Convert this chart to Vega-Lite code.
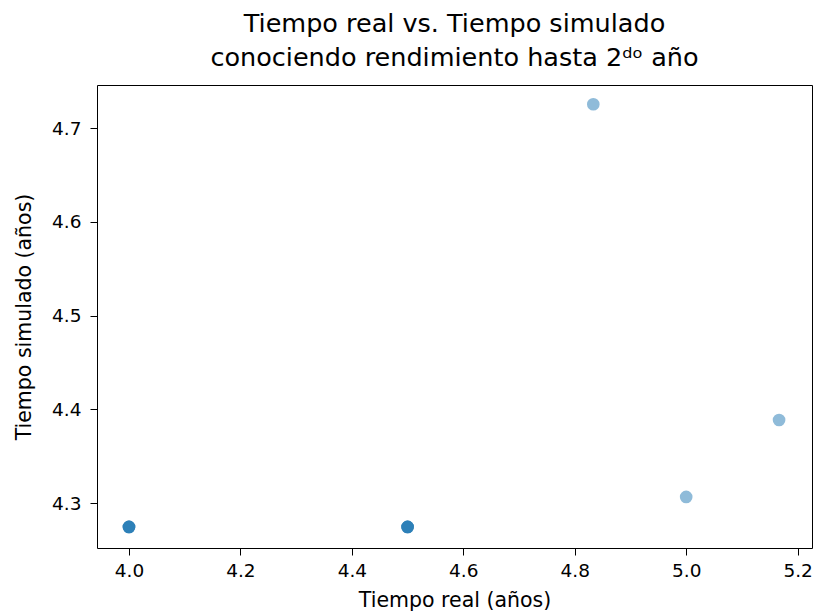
{
  "$schema": "https://vega.github.io/schema/vega-lite/v6.json",
  "autosize": "none",
  "padding": {"left": 97, "top": 85, "right": 4, "bottom": 66},
  "width": 715,
  "height": 463,
  "title": {
    "text": ["Tiempo real vs. Tiempo simulado", "conociendo rendimiento hasta 2ᵈᵒ año"],
    "font": "DejaVu Sans",
    "fontSize": 25.5,
    "fontWeight": "normal",
    "color": "#000000",
    "anchor": "middle",
    "lineHeight": 34,
    "offset": 14
  },
  "data": {
    "values": [
      {"real": 4.0, "sim": 4.2745},
      {"real": 4.0, "sim": 4.2745},
      {"real": 4.0, "sim": 4.2745},
      {"real": 4.0, "sim": 4.2745},
      {"real": 4.5, "sim": 4.2745},
      {"real": 4.5, "sim": 4.2745},
      {"real": 4.5, "sim": 4.2745},
      {"real": 4.5, "sim": 4.2745},
      {"real": 4.8333, "sim": 4.7255},
      {"real": 5.0, "sim": 4.3065},
      {"real": 5.1667, "sim": 4.3886}
    ]
  },
  "mark": {"type": "point", "filled": true, "color": "#1f77b4", "opacity": 0.5, "size": 160, "strokeWidth": 0},
  "encoding": {
    "x": {
      "field": "real", "type": "quantitative",
      "scale": {"domain": [3.9426, 5.2258], "nice": false, "zero": false},
      "axis": {"title": "Tiempo real (años)", "values": [4.0, 4.2, 4.4, 4.6, 4.8, 5.0, 5.2], "format": ".1f", "labelPadding": 6, "titlePadding": 11}
    },
    "y": {
      "field": "sim", "type": "quantitative",
      "scale": {"domain": [4.252, 4.746], "nice": false, "zero": false},
      "axis": {"title": "Tiempo simulado (años)", "values": [4.3, 4.4, 4.5, 4.6, 4.7], "format": ".1f", "labelPadding": 9, "titlePadding": 17}
    }
  },
  "config": {
    "view": {"stroke": "#000000", "strokeWidth": 1},
    "font": "DejaVu Sans",
    "axis": {
      "grid": false,
      "domain": false,
      "tickColor": "#000000",
      "tickSize": 7,
      "labelFont": "DejaVu Sans",
      "labelFontSize": 18.5,
      "labelColor": "#000000",
      "titleFont": "DejaVu Sans",
      "titleFontSize": 20.5,
      "titleFontWeight": "normal",
      "titleColor": "#000000"
    }
  }
}
